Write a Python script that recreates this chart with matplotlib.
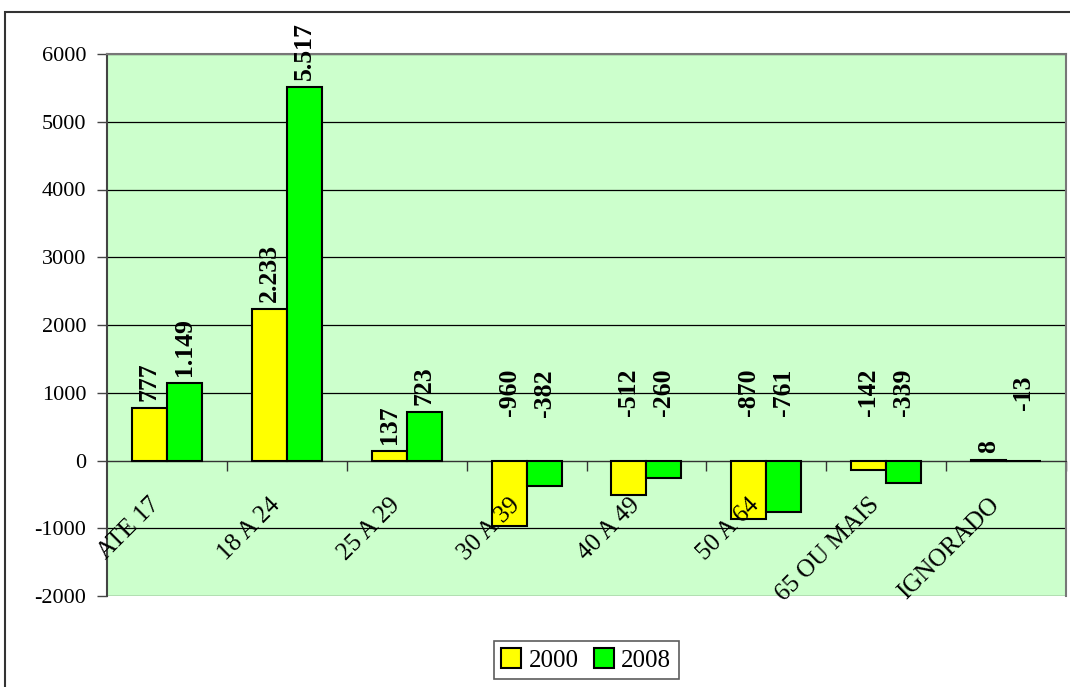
import matplotlib
matplotlib.use("Agg")
import matplotlib.pyplot as plt
from matplotlib.patches import Rectangle
import numpy as np

plt.rcParams['font.family'] = ['Liberation Serif', 'DejaVu Serif']
plt.rcParams['axes.unicode_minus'] = False

categorias = ['ATE 17', '18 A 24', '25 A 29', '30 A 39', '40 A 49',
              '50 A 64', '65 OU MAIS', 'IGNORADO']
v2000 = [777, 2233, 137, -960, -512, -870, -142, 8]
v2008 = [1149, 5517, 723, -382, -260, -761, -339, -13]
rot2000 = ['777', '2.233', '137', '-960', '-512', '-870', '-142', '8']
rot2008 = ['1.149', '5.517', '723', '-382', '-260', '-761', '-339', '-13']

fig = plt.figure(figsize=(10.7, 6.87), dpi=100)
# moldura externa
fig.patches.append(Rectangle((5/1070, -0.05), 1.1, 1 - 12/687 + 0.05,
                             transform=fig.transFigure, fill=False,
                             edgecolor='#333333', linewidth=1.5))

ax = fig.add_axes([107/1070, 1 - 596/687, (1066-107)/1070, (596-54)/687])
ax.set_facecolor('#CCFFCC')

x = np.arange(len(categorias))
w = 0.292
ax.bar(x - w/2, v2000, w, color='#FFFF00', edgecolor='black', linewidth=1.5,
       label='2000', zorder=3)
ax.bar(x + w/2, v2008, w, color='#00FF00', edgecolor='black', linewidth=1.5,
       label='2008', zorder=3)

ax.set_xlim(-0.5, len(categorias) - 0.5)
ax.set_ylim(-2000, 6000)
ax.set_yticks(np.arange(-2000, 6001, 1000))
ax.yaxis.grid(True, color='black', linewidth=0.9)
ax.set_axisbelow(True)
ax.tick_params(axis='y', labelsize=16, length=7, width=1, color='#444444', pad=8)

ax.spines['bottom'].set_position(('data', 0))
ax.spines['bottom'].set_color('#333333')
for s in ['top', 'right']:
    ax.spines[s].set_color('#777777')
    ax.spines[s].set_linewidth(1.5)
ax.spines['left'].set_color('#444444')
ax.spines['left'].set_linewidth(1.5)
ax.set_xticks(x + 0.5)
ax.set_xticklabels([])
ax.tick_params(axis='x', direction='out', length=7, width=1, color='#333333')

for xi, nome in zip(x, categorias):
    ax.annotate(nome, (xi, 0), xytext=(-13, -24), textcoords='offset points',
                rotation=45, rotation_mode='anchor', ha='right', va='top',
                fontsize=18, zorder=4)

def rotulo(xi, v, txt):
    if v >= 0:
        ax.annotate(txt, (xi, v), xytext=(0, 5), textcoords='offset points',
                    rotation=90, ha='center', va='bottom', fontsize=18.5,
                    fontweight='bold', zorder=5, annotation_clip=False)
    else:
        ax.text(xi, 1000, txt, rotation=90, ha='center', va='center',
                fontsize=18.5, fontweight='bold', zorder=5)

for xi, v, t in zip(x, v2000, rot2000):
    rotulo(xi - w/2, v, t)
for xi, v, t in zip(x, v2008, rot2008):
    rotulo(xi + w/2, v, t)

leg = fig.legend(loc='center', bbox_to_anchor=(586/1070, 1 - 660/687), ncol=2,
                 fontsize=18, frameon=True, fancybox=False, edgecolor='#333333',
                 handlelength=0.8, handleheight=0.8, handletextpad=0.3,
                 columnspacing=0.6, borderpad=0.3)
leg.get_frame().set_linewidth(1.2)

fig.savefig('out.png', dpi=100)
